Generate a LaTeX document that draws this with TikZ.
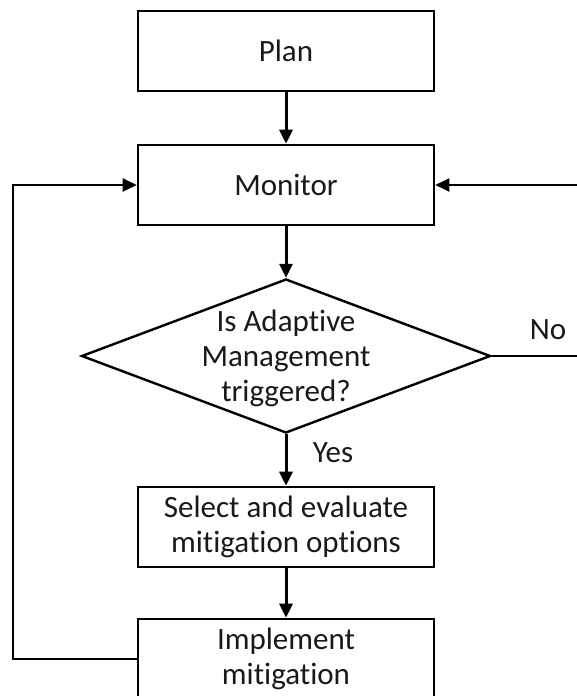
\documentclass[tikz,border=0pt]{standalone}
\usepackage{fontspec}
\setmainfont{Carlito}[Ligatures=NoCommon]
\usetikzlibrary{shapes.geometric,arrows.meta}
\begin{document}
\begin{tikzpicture}[x=1pt,y=-1pt,
  txt/.style={font=\fontsize{31}{35}\selectfont,align=center,text=black!90},
  box/.style={txt,draw,line width=2.6pt,minimum width=296pt,minimum height=80pt,inner sep=0pt},
  dec/.style={draw,diamond,line width=2.4pt,minimum width=409pt,minimum height=154pt,inner sep=0pt},
  arr/.style={line width=3pt,-{Triangle[length=14pt,width=13pt]}},
  lnarr/.style={line width=2.4pt,-{Triangle[length=14pt,width=13pt]}}]
\useasboundingbox (0,0) rectangle (577,696);
\clip (0,0) rectangle (577,696);
\node[box] (plan) at (286,51) {Plan};
\node[box] (mon) at (286,185) {Monitor};
\node[dec] (d) at (286,356) {};
\node[txt] (dt) at (286,358) {Is Adaptive\\Management\\triggered?};
\node[box] (sel) at (286,527) {Select and evaluate\\mitigation options};
\node[box] (imp) at (286,659) {Implement\\mitigation};
\node[txt] (no) at (548,330) {No};
\node[txt] (yes) at (333,453) {Yes};
\coordinate (lc) at (13,659);
\coordinate (rc) at (600,356);
\draw[arr] (plan.south) -- (mon.north);
\draw[arr] (mon.south) -- (d.north);
\draw[arr] (d.south) -- (sel.north);
\draw[arr] (sel.south) -- (imp.north);
\draw[lnarr] (imp.west) -- (lc) |- (mon.west);
\draw[lnarr] (d.east) -- (rc) |- (mon.east);
\end{tikzpicture}
\end{document}
